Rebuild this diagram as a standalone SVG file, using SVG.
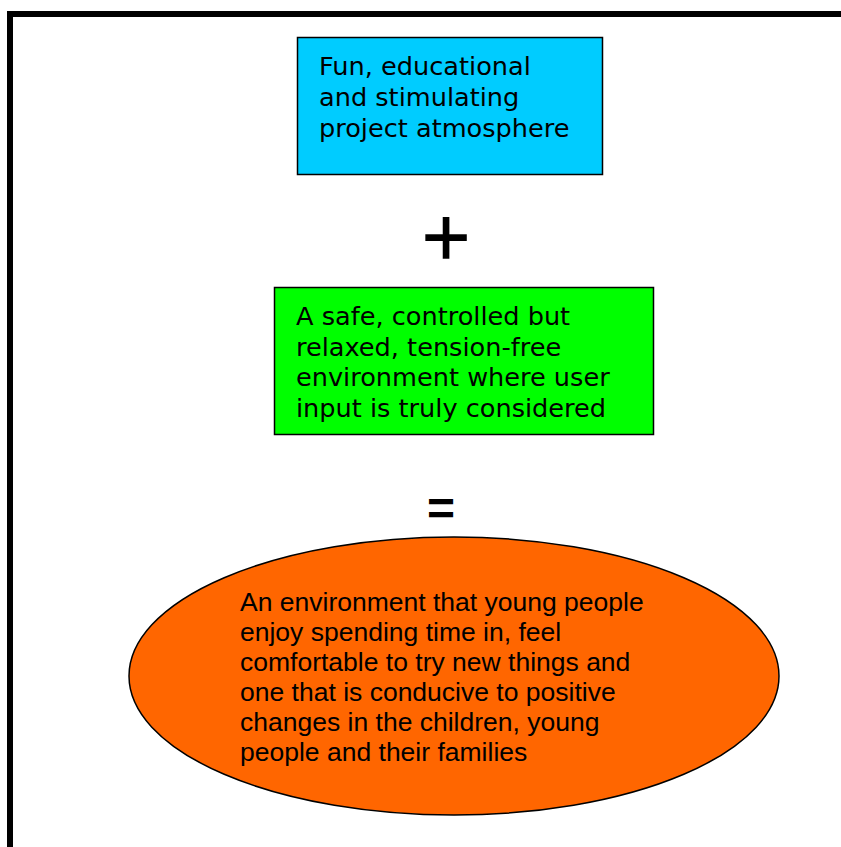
<svg xmlns="http://www.w3.org/2000/svg" width="841" height="847" viewBox="0 0 841 847">
  <style>
    .box { stroke: #000; stroke-width: 1.5; }
    .lbl { font-family: "DejaVu Sans", "Noto Sans", sans-serif; font-size: 25.6px; fill: #000; }
    .olbl { font-family: "Liberation Sans", Arial, sans-serif; font-size: 26.5px; fill: #000; }
    .op { font-family: "DejaVu Sans", sans-serif; fill: #000; stroke: #000; }
  </style>
  <rect width="841" height="847" fill="#fff"/>
  <path d="M10,847 V14 H841" fill="none" stroke="#000" stroke-width="6"/>

  <g id="atmosphere">
    <rect class="box" x="297.5" y="37.5" width="305" height="137" fill="#00CCFF"/>
    <text class="lbl" x="319" y="75">Fun, educational</text>
    <text class="lbl" x="319" y="106">and stimulating</text>
    <text class="lbl" x="319" y="137">project atmosphere</text>
  </g>

  <g id="plus">
    <text class="op" x="446" y="258" font-size="64" stroke-width="1.4" text-anchor="middle">+</text>
  </g>

  <g id="environment">
    <rect class="box" x="274.5" y="287.5" width="379" height="147" fill="#00FF00"/>
    <text class="lbl" x="296" y="325">A safe, controlled but</text>
    <text class="lbl" x="296" y="356">relaxed, tension-free</text>
    <text class="lbl" x="296" y="386">environment where user</text>
    <text class="lbl" x="296" y="417">input is truly considered</text>
  </g>

  <g id="equals">
    <text x="441" y="525" font-family="Liberation Sans, Arial, sans-serif" font-weight="bold" font-size="48" text-anchor="middle" fill="#000">=</text>
  </g>

  <g id="result">
    <ellipse class="box" cx="454" cy="676" rx="325" ry="139" fill="#FF6600"/>
    <text class="olbl" x="240" y="611">An environment that young people</text>
    <text class="olbl" x="240" y="641">enjoy spending time in, feel</text>
    <text class="olbl" x="240" y="671">comfortable to try new things and</text>
    <text class="olbl" x="240" y="701">one that is conducive to positive</text>
    <text class="olbl" x="240" y="731">changes in the children, young</text>
    <text class="olbl" x="240" y="761">people and their families</text>
  </g>

  <g id="connectors"></g>
</svg>
